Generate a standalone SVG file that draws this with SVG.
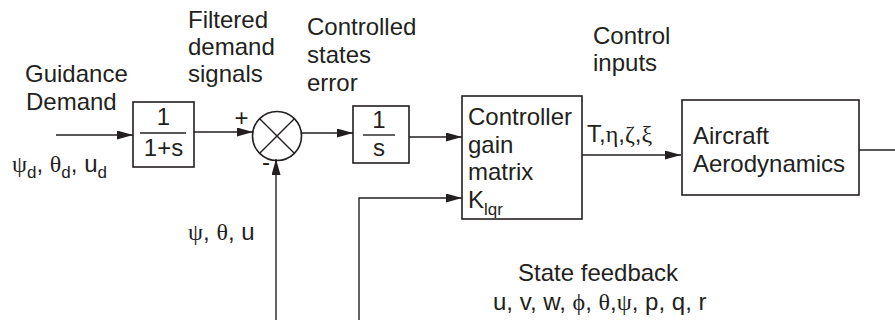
<svg xmlns="http://www.w3.org/2000/svg" width="895" height="320" viewBox="0 0 895 320">
<style>
  .t{font-family:"Liberation Sans",Arial,sans-serif;font-size:24px;fill:#231f20}
  .g{font-family:"Liberation Serif","Times New Roman",serif}
  .sub{font-size:17px}
  .box{fill:none;stroke:#231f20;stroke-width:1.6}
  .ln{fill:none;stroke:#231f20;stroke-width:1.4}
</style>
<defs>
  <marker id="ah" markerUnits="userSpaceOnUse" markerWidth="17" markerHeight="9" refX="16" refY="4.5" orient="auto">
    <path d="M0,0 L16,4.5 L0,9 z" fill="#231f20"/>
  </marker>
</defs>
<rect width="895" height="320" fill="#fff"/>

<g id="connectors">
  <line class="ln" x1="56" y1="135" x2="133" y2="135" marker-end="url(#ah)"/>
  <line class="ln" x1="194" y1="132" x2="253" y2="132" marker-end="url(#ah)"/>
  <line class="ln" x1="301" y1="133" x2="353" y2="133" marker-end="url(#ah)"/>
  <line class="ln" x1="409" y1="137" x2="462" y2="137" marker-end="url(#ah)"/>
  <line class="ln" x1="582" y1="155" x2="681" y2="155" marker-end="url(#ah)"/>
  <line class="ln" x1="859" y1="150" x2="895" y2="150"/>
  <polyline class="ln" points="359,320 359,198 462,198" marker-end="url(#ah)"/>
  <line class="ln" x1="276" y1="320" x2="276" y2="159" marker-end="url(#ah)"/>
</g>

<g id="labels">
  <text class="t" x="25" y="82">Guidance</text>
  <text class="t" x="26" y="110">Demand</text>
  <text class="t" x="12" y="172"><tspan class="g">ψ</tspan><tspan class="sub" dy="6">d</tspan><tspan dy="-6">, </tspan><tspan class="g">θ</tspan><tspan class="sub" dy="6">d</tspan><tspan dy="-6">, u</tspan><tspan class="sub" dy="6">d</tspan></text>
  <text class="t" x="188" y="28">Filtered</text>
  <text class="t" x="188" y="55">demand</text>
  <text class="t" x="188" y="82">signals</text>
  <text class="t" x="307" y="35">Controlled</text>
  <text class="t" x="307" y="63">states</text>
  <text class="t" x="307" y="91">error</text>
  <text class="t" x="593" y="44">Control</text>
  <text class="t" x="593" y="71">inputs</text>
  <text class="t" x="587" y="142">T,<tspan class="g">η</tspan>,<tspan class="g">ζ</tspan>,<tspan class="g">ξ</tspan></text>
  <text class="t" x="188" y="240"><tspan class="g">ψ</tspan>, <tspan class="g">θ</tspan>, u</text>
  <text class="t" x="518" y="281">State feedback</text>
  <text class="t" x="493" y="310">u, v, w, <tspan class="g">ϕ</tspan>, <tspan class="g">θ</tspan>,<tspan class="g">ψ</tspan>, p, q, r</text>
</g>

<g id="filter">
  <rect class="box" x="133" y="102" width="61" height="65"/>
  <line class="ln" x1="140" y1="133" x2="186" y2="133"/>
  <text class="t" x="163.5" y="125" text-anchor="middle">1</text>
  <text class="t" x="163.5" y="156" text-anchor="middle">1+s</text>
</g>

<g id="sum">
  <circle cx="277" cy="136" r="24.5" fill="none" stroke="#231f20" stroke-width="1.6"/>
  <line class="ln" x1="259.7" y1="118.7" x2="294.3" y2="153.3"/>
  <line class="ln" x1="294.3" y1="118.7" x2="259.7" y2="153.3"/>
  <text class="t" x="241.5" y="126" text-anchor="middle">+</text>
  <text class="t" x="266" y="170" text-anchor="middle">-</text>
</g>

<g id="integrator">
  <rect class="box" x="353" y="106" width="56" height="57"/>
  <line class="ln" x1="363" y1="135" x2="395" y2="135"/>
  <text class="t" x="379" y="128" text-anchor="middle">1</text>
  <text class="t" x="379" y="156" text-anchor="middle">s</text>
</g>

<g id="controller">
  <rect class="box" x="462" y="96" width="120" height="123"/>
  <text class="t" x="468" y="125">Controller</text>
  <text class="t" x="468" y="153">gain</text>
  <text class="t" x="468" y="180">matrix</text>
  <text class="t" x="468" y="208">K<tspan class="sub" dy="7">lqr</tspan></text>
</g>

<g id="aircraft">
  <rect class="box" x="682" y="100" width="177" height="95"/>
  <text class="t" x="693" y="144">Aircraft</text>
  <text class="t" x="693" y="172">Aerodynamics</text>
</g>
</svg>
